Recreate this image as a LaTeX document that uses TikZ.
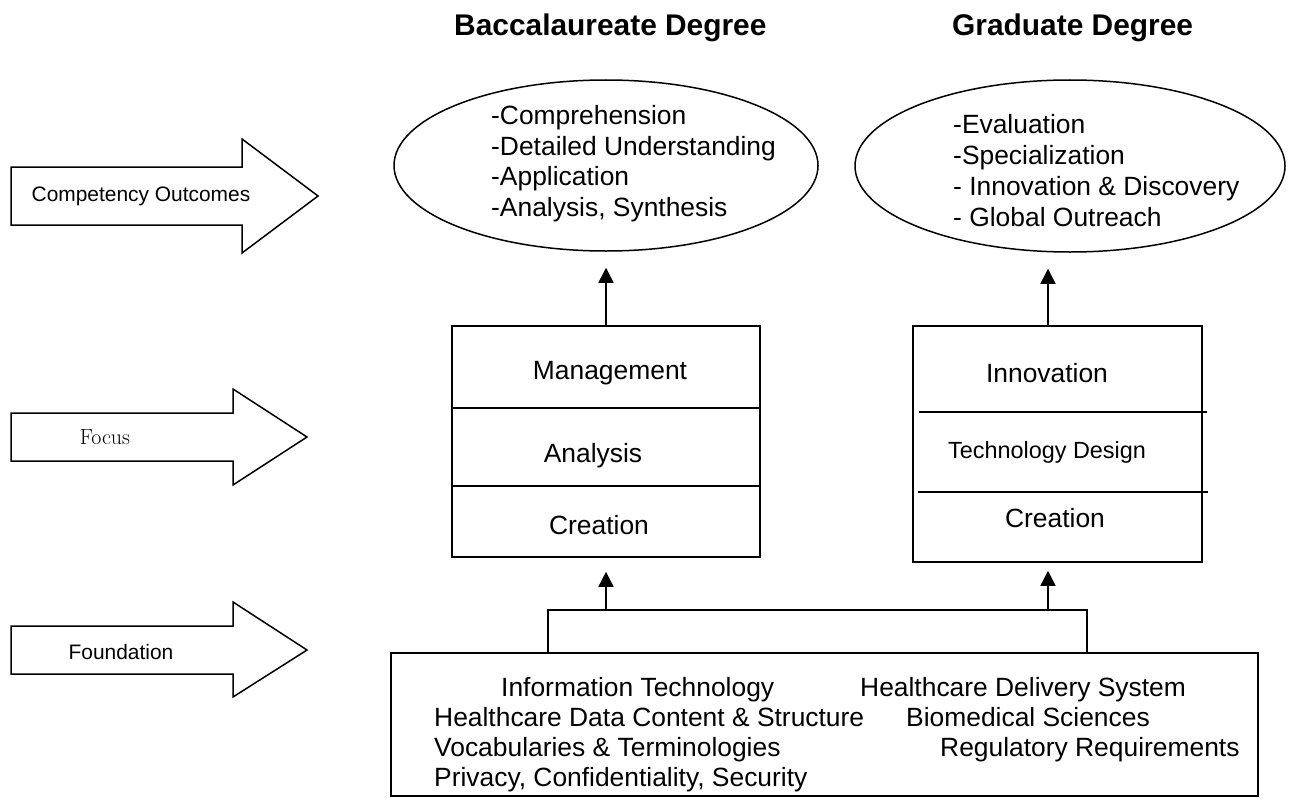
\documentclass[tikz,border=0pt]{standalone}
\usepackage{fontspec}
\setsansfont{Liberation Sans}
\usetikzlibrary{shapes.geometric,arrows.meta}

\begin{document}
\begin{tikzpicture}[x=1bp,y=-1bp,line join=miter,
  txt/.style={font=\sffamily\fontsize{26.5}{30}\selectfont,inner sep=0},
  ln/.style={txt,anchor=base west},
  small/.style={font=\sffamily\fontsize{21}{25}\selectfont,inner sep=0},
  ttl/.style={font=\sffamily\bfseries\fontsize{30}{34}\selectfont,inner sep=0,anchor=base west},
  bigarrow/.style={draw,line width=1.5bp,fill=white},
  boxed/.style={draw,line width=1.6bp,rectangle,inner sep=0},
  oval/.style={draw,line width=1.5bp,ellipse,inner sep=0},
  divider/.style={line width=1.6bp},
  thickdivider/.style={line width=2.4bp},
  conn/.style={line width=1.6bp},
  upar/.style={conn,-{Triangle[length=15bp,width=15bp]}}]

\useasboundingbox (0,0) rectangle (1299,798);

% column headings
\node[ttl] (t1) at (454,36) {Baccalaureate Degree};
\node[ttl] (t2) at (952,36) {Graduate Degree};

% level arrows on the left
\draw[bigarrow] (11,167) -- (242,167) -- (242,139) -- (318,196) -- (242,253) -- (242,225) -- (11,225) -- cycle;
\node[small] (lcomp) at (141,196) {Competency Outcomes};
\draw[bigarrow] (11,413) -- (233,413) -- (233,389) -- (307,437) -- (233,485) -- (233,461) -- (11,461) -- cycle;
\node[font=\rmfamily\fontsize{22}{26}\selectfont,inner sep=0] (lfocus) at (105,437) {Focus};
\draw[bigarrow] (11,626) -- (233,626) -- (233,602) -- (307,650) -- (233,697) -- (233,674) -- (11,674) -- cycle;
\node[small] (lfound) at (121,652) {Foundation};

% competency outcomes
\node[oval,minimum width=424bp,minimum height=171bp] (ell1) at (606,165.5) {};
\node[ln] (e1a) at (491,124) {-Comprehension};
\node[ln] (e1b) at (491,155) {-Detailed Understanding};
\node[ln] (e1c) at (491,185) {-Application};
\node[ln] (e1d) at (491,216) {-Analysis, Synthesis};

\node[oval,minimum width=430bp,minimum height=172bp] (ell2) at (1070,166) {};
\node[ln] (e2a) at (953,133) {-Evaluation};
\node[ln] (e2b) at (953,164) {-Specialization};
\node[ln] (e2c) at (953,195) {- Innovation \& Discovery};
\node[ln] (e2d) at (953,226) {- Global Outreach};

% focus boxes
\node[boxed,minimum width=308bp,minimum height=231bp] (box1) at (606,441.5) {};
\draw[thickdivider] (452,408) -- (760,408);
\draw[thickdivider] (452,486) -- (760,486);
\node[txt] (b1a) at (610,373) {Management};
\node[txt] (b1b) at (593,456) {Analysis};
\node[txt] (b1c) at (599,525) {Creation};

\node[boxed,minimum width=289bp,minimum height=236bp] (box2) at (1057.5,444) {};
\draw[divider] (919,412) -- (1207,412);
\draw[divider] (918,492) -- (1208,492);
\node[txt] (b2a) at (1047,373) {Innovation};
\node[txt,font=\sffamily\fontsize{23.5}{28}\selectfont] (b2b) at (1047,452) {Technology Design};
\node[txt] (b2c) at (1055,518) {Creation};

% foundation box
\node[boxed,minimum width=867bp,minimum height=143bp] (fbox) at (824.5,724.5) {};
\node[ln] (f1) at (501,696) {Information Technology};
\node[ln] (f2) at (434,726) {Healthcare Data Content \& Structure};
\node[ln] (f3) at (434,756) {Vocabularies \& Terminologies};
\node[ln] (f4) at (434,786) {Privacy, Confidentiality, Security};
\node[ln] (f5) at (860,696) {Healthcare Delivery System};
\node[ln] (f6) at (906,726) {Biomedical Sciences};
\node[ln] (f7) at (940,756) {Regulatory Requirements};

% connectors
\coordinate (hl) at (548,610);
\coordinate (hr) at (1087,610);
\coordinate (a2) at (1048,610);
\draw[conn] (fbox.north -| hl) -- (hl) -- (hr) -- (fbox.north -| hr);
\draw[upar,shorten >=14bp] (hl -| box1.south) -- (box1.south);
\draw[upar,shorten >=8bp] (a2) -- (a2 |- box2.south);
\draw[upar,shorten >=16bp] (box1.north) -- (ell1.south);
\draw[upar,shorten >=16bp] (box2.north -| a2) -- (ell2.south -| a2);
\end{tikzpicture}
\end{document}
